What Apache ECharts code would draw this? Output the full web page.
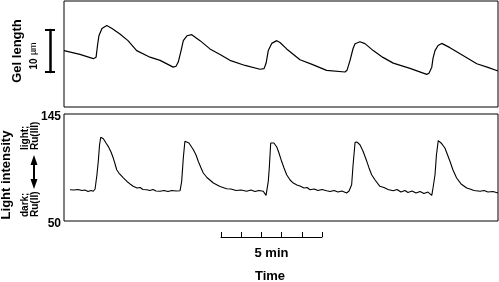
<!DOCTYPE html>
<html>
<head>
<meta charset="utf-8">
<script src="https://cdn.jsdelivr.net/npm/echarts@6/dist/echarts.min.js"></script>
<style>html,body{margin:0;padding:0;background:#fff;}#c{width:499px;height:282px;}</style>
</head>
<body>
<div id="c"></div>
<script>
// Gel length trace (time in min, length in µm relative)
const timeGel = [0,0.79,1.45,1.59,1.66,1.73,1.88,2.12,2.38,2.77,3.17,3.60,4.26,4.76,5.41,5.55,5.66,5.80,5.91,6.09,6.33,6.74,7.23,7.73,8.22,8.97,9.71,9.91,10.01,10.12,10.29,10.54,10.70,11.03,11.69,12.29,13.01,13.92,14.02,14.17,14.32,14.42,14.66,14.91,15.32,15.80,16.31,17.14,17.97,18.08,18.22,18.28,18.38,18.53,18.71,19.12,19.62,20.45,21.00,21.50];
const gelLength = [13.3,12.4,11.4,11.75,14.5,16.8,18.5,19.2,18.5,17.2,15.65,13.3,11.75,11.0,9.4,9.6,10.6,13.3,15.65,16.8,17.05,15.65,13.7,12.4,11.0,9.8,8.9,9.05,10.3,13.3,15.0,15.65,15.2,13.7,11.15,10.05,8.65,8.25,8.65,11.0,13.8,14.9,15.4,14.95,13.3,11.7,10.35,9.1,7.7,7.95,9.4,11.45,13.3,14.5,15.0,14.0,12.55,10.2,9.35,8.5];

// Light intensity trace
const timeLight = [0.30,0.50,0.69,0.89,1.04,1.19,1.34,1.45,1.54,1.59,1.63,1.70,1.76,1.82,1.95,2.08,2.19,2.33,2.44,2.53,2.61,2.72,2.94,3.12,3.27,3.43,3.62,3.77,3.91,4.10,4.26,4.41,4.56,4.76,4.95,5.15,5.35,5.55,5.75,5.83,5.91,5.99,6.04,6.19,6.41,6.54,6.65,6.79,6.90,7.08,7.40,7.73,8.06,8.27,8.52,8.77,9.05,9.26,9.46,9.66,9.87,10.01,10.12,10.17,10.24,10.29,10.40,10.54,10.65,10.78,10.90,11.03,11.20,11.36,11.54,11.69,11.89,12.04,12.19,12.39,12.58,12.78,13.01,13.18,13.38,13.57,13.77,14.00,14.12,14.25,14.32,14.42,14.52,14.66,14.81,15.00,15.11,15.24,15.41,15.65,15.85,16.05,16.31,16.50,16.69,16.89,17.04,17.24,17.44,17.64,17.83,18.03,18.22,18.28,18.38,18.45,18.54,18.68,18.87,19.12,19.27,19.45,19.67,19.95,20.11,20.31,20.61,20.81,21.00,21.25,21.50];
const lightIntensity = [77.8,77.5,78.0,77.1,77.5,76.2,77.1,76.4,78.4,79.3,90.8,103.3,117.5,124.3,123.1,119.3,116.3,111.3,105.9,100.6,95.5,92.6,88.2,85.1,82.9,80.8,79.3,79.7,78.0,77.8,77.1,78.0,76.6,76.4,77.1,76.2,77.1,76.6,76.9,85.2,105.9,120.8,121.7,119.3,113.3,108.6,103.0,97.1,92.6,88.6,83.7,80.6,78.7,78.4,77.1,77.5,76.4,77.5,76.2,77.1,76.4,72.8,85.2,97.1,119.3,120.8,119.3,115.7,110.4,103.0,97.1,91.1,86.4,83.7,82.0,81.1,79.3,79.7,77.8,78.4,77.1,78.0,76.9,76.2,77.1,75.7,76.6,74.9,76.6,82.2,99.7,119.9,120.1,117.7,112.2,103.0,97.1,91.1,86.4,80.8,79.7,78.0,76.9,78.0,75.7,77.1,75.3,76.6,74.9,76.2,74.4,75.7,72.8,79.3,91.1,108.6,121.3,119.3,114.8,103.0,95.3,88.2,82.9,79.3,78.4,77.1,76.4,77.1,75.7,76.2,74.9];

const lightTicks = [50, 145];
const timeScaleMin = 5;     // length of time scale bar
const gelScaleUm = 10;      // length of gel scale bar

const FONT = '"Liberation Sans", Arial, Helvetica, sans-serif';
const chart = echarts.init(document.getElementById('c'), null, {renderer: 'canvas'});

const hiddenX = (gi) => ({type:'value', gridIndex: gi, min:0, max:21.5, show:false});

chart.setOption({
  animation: false,
  backgroundColor: '#fff',
  grid: [
    {left:64, top:1, width:434, height:106, show:true, borderColor:'#000', borderWidth:1, backgroundColor:'transparent'},
    {left:64, top:114, width:434, height:107, show:true, borderColor:'#000', borderWidth:1, backgroundColor:'transparent'},
    {left:221, top:230, width:101, height:7},
    {left:50, top:30, width:5, height:42}
  ],
  xAxis: [
    hiddenX(0),
    hiddenX(1),
    {type:'value', gridIndex:2, min:0, max:timeScaleMin, interval:1, position:'bottom',
     axisLine:{show:true, lineStyle:{color:'#000', width:1}},
     axisTick:{show:true, inside:true, length:5, lineStyle:{color:'#000', width:1}},
     axisLabel:{show:false}, splitLine:{show:false},
     name: timeScaleMin + ' min', nameLocation:'middle', nameGap:10,
     nameTextStyle:{fontFamily:FONT, fontWeight:'bold', fontSize:13, color:'#000'}},
    {type:'value', gridIndex:3, min:0, max:1, show:false}
  ],
  yAxis: [
    {type:'value', gridIndex:0, min:0, max:25, show:false},
    {type:'value', gridIndex:1, min:50, max:145,
     axisLine:{show:false}, axisTick:{show:false}, splitLine:{show:false},
     axisLabel:{show:true, customValues: lightTicks, margin:3,
       formatter: (v) => '{v|' + v + '}',
       rich:{v:{fontFamily:FONT, fontWeight:'bold', fontSize:12, color:'#000', padding:[5,0,0,0]}}}},
    {type:'value', gridIndex:2, show:false},
    {type:'value', gridIndex:3, min:0, max:gelScaleUm, interval:gelScaleUm, position:'left',
     axisLine:{show:true, lineStyle:{color:'#000', width:2.5}},
     axisTick:{show:true, length:5, lineStyle:{color:'#000', width:2}},
     axisLabel:{show:false}, splitLine:{show:false}},
    {type:'value', gridIndex:3, min:0, max:gelScaleUm, interval:gelScaleUm, position:'left',
     axisLine:{show:false},
     axisTick:{show:true, inside:true, length:5, lineStyle:{color:'#000', width:2}},
     axisLabel:{show:false}, splitLine:{show:false}}
  ],
  series: [
    {type:'line', xAxisIndex:0, yAxisIndex:0, showSymbol:false, smooth:false,
     lineStyle:{color:'#000', width:1.2},
     data: timeGel.map((t,i)=>[t, gelLength[i]])},
    {type:'line', xAxisIndex:1, yAxisIndex:1, showSymbol:false, smooth:false,
     lineStyle:{color:'#000', width:1.1},
     data: timeLight.map((t,i)=>[t, lightIntensity[i]])}
  ],
  graphic: [
    {type:'text', x:17, y:51, rotation:Math.PI/2,
     style:{text:'Gel length', font:'bold 13px ' + FONT, fill:'#000', align:'center', verticalAlign:'middle'}},
    {type:'text', x:34, y:56, rotation:Math.PI/2,
     style:{text:'{a|10} {b|µm}', fill:'#000', align:'center', verticalAlign:'middle',
       rich:{a:{fontFamily:FONT, fontWeight:'bold', fontSize:10}, b:{fontFamily:FONT, fontSize:9}}}},
    {type:'text', x:6, y:175, rotation:Math.PI/2,
     style:{text:'Light intensity', font:'bold 13px ' + FONT, fill:'#000', align:'center', verticalAlign:'middle'}},
    {type:'text', x:30, y:217, rotation:Math.PI/2,
     style:{text:'dark;\nRu(II)', font:'bold 10px ' + FONT, lineHeight:10, fill:'#000', align:'left', verticalAlign:'middle'}},
    {type:'text', x:30, y:150, rotation:Math.PI/2,
     style:{text:'light;\nRu(III)', font:'bold 10px ' + FONT, lineHeight:10, fill:'#000', align:'left', verticalAlign:'middle'}},
    {type:'line', shape:{x1:34, y1:163, x2:34, y2:181}, style:{stroke:'#000', lineWidth:2}},
    {type:'polygon', shape:{points:[[34,155],[30.5,165],[37.5,165]]}, style:{fill:'#000'}},
    {type:'polygon', shape:{points:[[34,189],[30.5,179],[37.5,179]]}, style:{fill:'#000'}},
    {type:'text', x:270, y:276,
     style:{text:'Time', font:'bold 13px ' + FONT, fill:'#000', align:'center', verticalAlign:'middle'}}
  ]
});
</script>
</body>
</html>
